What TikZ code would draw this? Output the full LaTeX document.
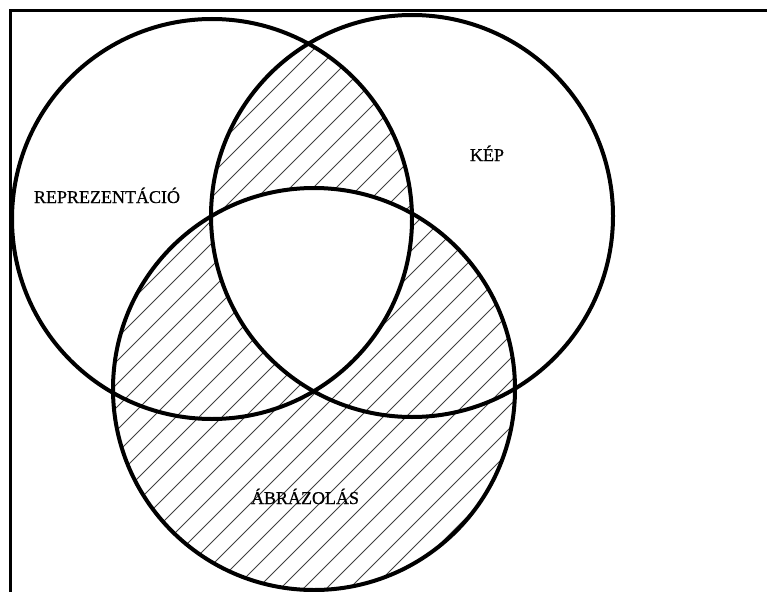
\documentclass[tikz,border=0pt]{standalone}
\usepackage{fontspec}
\setmainfont{Liberation Serif}
\newfontfamily\lblfont[FakeBold=0.6]{Liberation Serif}
\begin{document}
\begin{tikzpicture}[x=1pt,y=-1pt,
  ring/.style={line width=4pt},
  frameline/.style={line width=3pt},
  hatchline/.style={line width=0.75pt, black!75},
  lbl/.style={font=\lblfont\fontsize{18}{20}\selectfont, anchor=base, inner sep=0pt}]
\newcommand\myhatch{\foreach \c in {-740,-717,...,820} {\draw[hatchline] (\c,620) -- ++(670,-670);}}
\useasboundingbox (0,0) rectangle (767,591);
\clip (0,0) rectangle (767,591);
\coordinate (cL) at (212,219);
\coordinate (cR) at (412,216);
\coordinate (cB) at (314,389);
% hatch in L and R
\begin{scope}
  \clip (cL) circle[radius=200];
  \clip (cR) circle[radius=201];
  \myhatch
\end{scope}
\fill[white] (cB) circle[radius=201];
\begin{scope}
  \clip (cB) circle[radius=201];
  \myhatch
\end{scope}
\begin{scope}
  \clip (cL) circle[radius=200];
  \clip (cR) circle[radius=201];
  \fill[white] (cB) circle[radius=201];
\end{scope}
% frame
\coordinate (fBL) at (10,600);
\coordinate (fTL) at (10,11);
\coordinate (fTR) at (780,11);
\draw[frameline] (fBL) -- (fTL) -- (fTR);
% circles
\draw[ring] (cL) circle[radius=200];
\draw[ring] (cR) circle[radius=201];
\draw[ring] (cB) circle[radius=201];
% labels
\node[lbl] (rep) at (107,203) {REPREZENTÁCIÓ};
\node[lbl] (kep) at (487,161) {KÉP};
\node[lbl] (abr) at (305,504) {ÁBRÁZOLÁS};
\end{tikzpicture}
\end{document}
